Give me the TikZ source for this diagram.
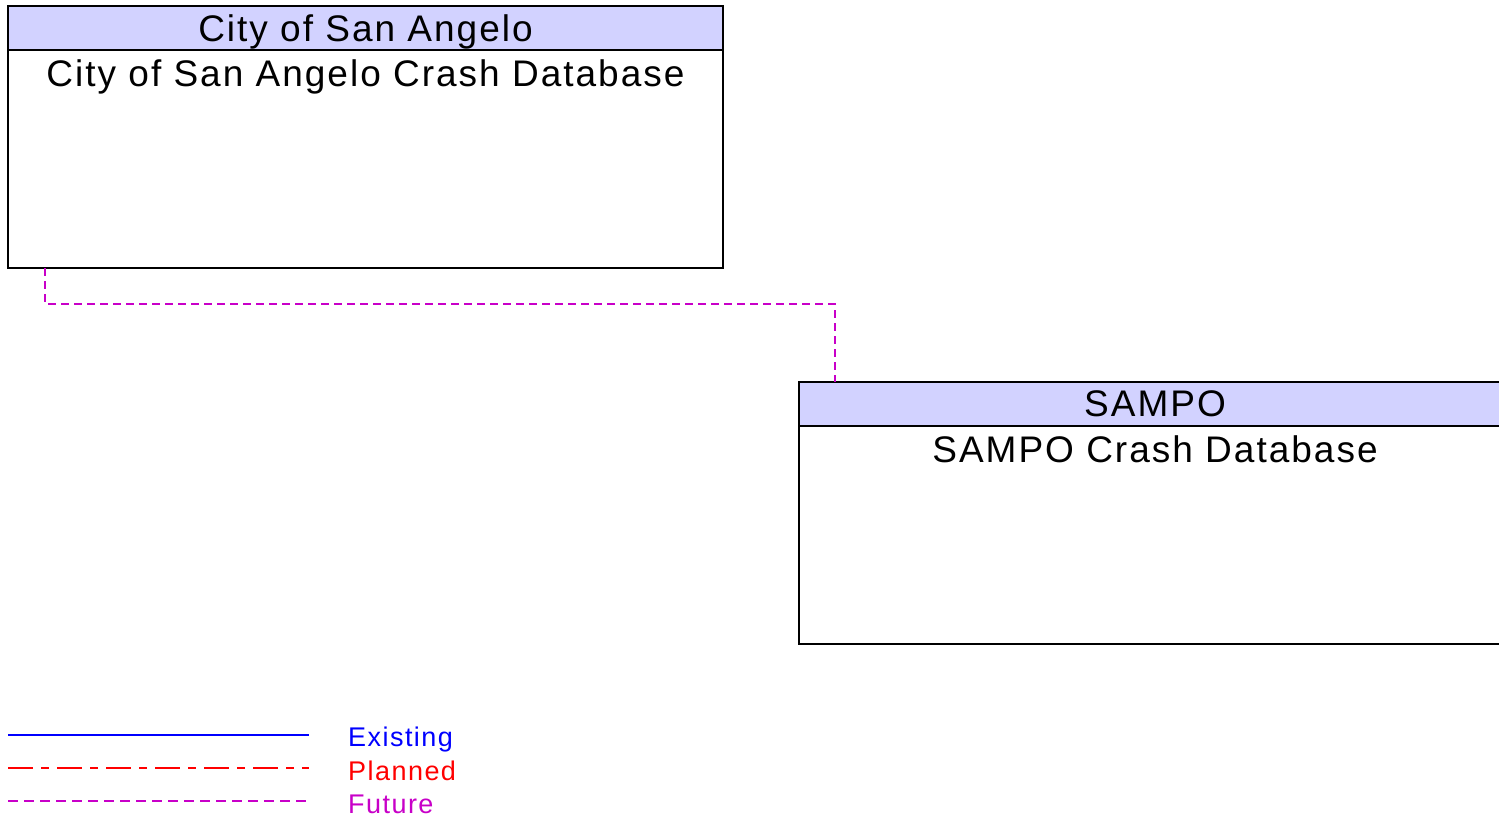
\documentclass[tikz,border=0pt]{standalone}
\usepackage{fontspec}
\setmainfont{Liberation Sans}[LetterSpace=5.4]
\definecolor{hdr}{RGB}{210,210,255}
\definecolor{fut}{RGB}{200,0,200}
\definecolor{exi}{RGB}{0,0,255}
\definecolor{pla}{RGB}{255,0,0}
\tikzset{
  boxframe/.style={draw=black, line width=1.2pt},
  hdrfill/.style={fill=hdr, draw=black, line width=1.2pt},
  bigtext/.style={font=\fontsize{37}{40}\selectfont, anchor=base, inner sep=0pt},
  legtext/.style={font=\fontsize{27}{30}\selectfont, anchor=base west, inner sep=0pt},
  futline/.style={draw=fut, line width=1.3pt, dash pattern=on 8pt off 5pt},
  legfut/.style={draw=fut, line width=1.4pt, dash pattern=on 10pt off 6pt},
  plaline/.style={draw=pla, line width=1.4pt, dash pattern=on 25pt off 8pt on 8pt off 8pt},
  exiline/.style={draw=exi, line width=2.5pt},
}
\begin{document}
\begin{tikzpicture}[x=1pt,y=-1pt]
\useasboundingbox (0,0) rectangle (1499,819);
\fill[white] (0,0) rectangle (1499,819);
% box 1
\draw[hdrfill] (8,6) rectangle (723,50);
\draw[boxframe] (8,50) rectangle (723,268);
\node[bigtext] (h1) at (365.5,41) {City of San Angelo};
\node[bigtext] (b1) at (365.5,86) {City of San Angelo Crash Database};
\coordinate (c1) at (45,268);
% box 2
\draw[hdrfill] (799,382) rectangle (1511,426);
\draw[boxframe] (799,426) rectangle (1511,644);
\node[bigtext] (h2) at (1155,416) {SAMPO};
\node[bigtext] (b2) at (1155,462) {SAMPO Crash Database};
\coordinate (c2) at (835,382);
% connector
\draw[futline] (c1) -- (45,304) -- (835,304) -- (c2);
% legend
\coordinate (l1a) at (8,735); \coordinate (l1b) at (309,735);
\coordinate (l2a) at (8,768); \coordinate (l2b) at (309,768);
\coordinate (l3a) at (8,801); \coordinate (l3b) at (309,801);
\draw[exiline] (l1a) -- (l1b);
\draw[plaline] (l2a) -- (l2b);
\draw[legfut] (l3a) -- (l3b);
\node[legtext, text=exi] (t1) at (348,746) {Existing};
\node[legtext, text=pla] (t2) at (348,780) {Planned};
\node[legtext, text=fut] (t3) at (348,813) {Future};
\end{tikzpicture}
\end{document}
